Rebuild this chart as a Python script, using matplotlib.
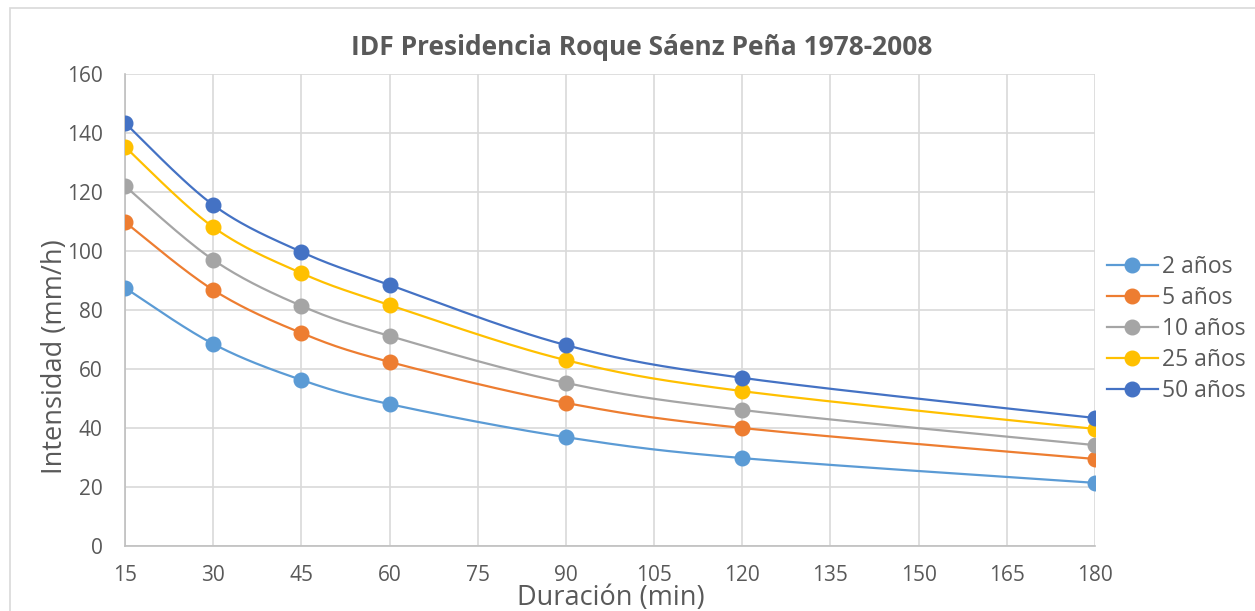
import numpy as np
import matplotlib
matplotlib.use("Agg")
import matplotlib.pyplot as plt
from matplotlib.lines import Line2D
from matplotlib.patches import Rectangle

plt.rcParams["font.family"] = ["Open Sans", "DejaVu Sans"]

# durations (min) and intensities (mm/h) per return period
duracion = [15, 30, 45, 60, 90, 120, 180]
series_names = ["2 años", "5 años", "10 años", "25 años", "50 años"]
i_2 = [87.5, 68.5, 56.3, 48.1, 36.9, 29.8, 21.4]
i_5 = [109.8, 86.8, 72.2, 62.4, 48.5, 40.0, 29.5]
i_10 = [122.0, 97.0, 81.4, 71.2, 55.3, 46.1, 34.2]
i_25 = [135.3, 108.1, 92.5, 81.7, 63.0, 52.5, 39.7]
i_50 = [143.4, 115.6, 99.7, 88.5, 68.1, 57.0, 43.4]
x_ticks = list(range(15, 181, 15))
y_ticks = list(range(0, 161, 20))

COLORS = ["#5B9BD5", "#ED7D31", "#A5A5A5", "#FFC000", "#4472C4"]
TXT = "#595959"
GRID = "#D9D9D9"


def smooth(xs, ys, n=30):
    # Excel-like smoothed line: Catmull-Rom segments as cubic Bezier
    x = np.asarray(xs, float) / 165.0
    y = np.asarray(ys, float) / 160.0 * 0.5
    pts = np.column_stack([x, y])
    out = []
    for k in range(len(pts) - 1):
        p0 = pts[max(k - 1, 0)]
        p1 = pts[k]
        p2 = pts[k + 1]
        p3 = pts[min(k + 2, len(pts) - 1)]
        c1 = p1 + (p2 - p0) / 6.0
        c2 = p2 - (p3 - p1) / 6.0
        t = np.linspace(0, 1, n)[:, None]
        seg = ((1 - t) ** 3) * p1 + 3 * ((1 - t) ** 2) * t * c1 + 3 * (1 - t) * t ** 2 * c2 + t ** 3 * p2
        out.append(seg if k == 0 else seg[1:])
    out = np.vstack(out)
    return out[:, 0] * 165.0, out[:, 1] / 0.5 * 160.0


W, H = 1255, 611
fig = plt.figure(figsize=(W / 100, H / 100), dpi=100)
fig.patches.append(Rectangle((10 / W, -0.05), 1.2, 1 - 8 / H + 0.05,
                             transform=fig.transFigure, fill=False,
                             edgecolor="#D9D9D9", linewidth=1.2))
ax = fig.add_axes([125 / W, 1 - 546 / H, 970 / W, 472 / H])

for name, vals, col in zip(series_names, [i_2, i_5, i_10, i_25, i_50], COLORS):
    sx, sy = smooth(duracion, vals)
    ax.plot(sx, sy, color=col, linewidth=1.6, zorder=3)
    ax.plot(duracion, vals, linestyle="none", marker="o", markersize=10.5,
            color=col, zorder=4)

ax.set_xlim(15, 180)
ax.set_ylim(0, 160)
ax.set_xticks(x_ticks)
ax.set_yticks(y_ticks)
ax.grid(True, color=GRID, linewidth=1.2, zorder=0)
ax.set_axisbelow(True)
for s in ["top", "right"]:
    ax.spines[s].set_visible(False)
for s in ["left", "bottom"]:
    ax.spines[s].set_color("#BFBFBF")
    ax.spines[s].set_linewidth(1.2)
ax.tick_params(axis="both", length=0, labelsize=15, colors=TXT)
ax.tick_params(axis="y", pad=16)
ax.tick_params(axis="x", pad=14)

fig.text(642 / W, 1 - 55 / H, "IDF Presidencia Roque Sáenz Peña 1978-2008",
         fontsize=19, fontweight="bold", color=TXT, ha="center", va="baseline")
fig.text(55 / W, 1 - 357 / H, "Intensidad (mm/h)", fontsize=19.5, color=TXT,
         rotation=90, ha="center", va="center")
fig.text(611 / W, 1 - 598 / H, "Duración (min)", fontsize=19.5, color=TXT,
         ha="center", va="center")

handles = [Line2D([0], [0], color=c, linewidth=1.6, marker="o", markersize=10.5)
           for c in COLORS]
ax.legend(handles, series_names, loc="center left", bbox_to_anchor=(0.996, 0.46),
          frameon=False, fontsize=16.5, labelcolor=TXT, handlelength=2.2,
          handletextpad=0.2, labelspacing=0.3, borderaxespad=0.3)

fig.savefig("out.png", dpi=100)
